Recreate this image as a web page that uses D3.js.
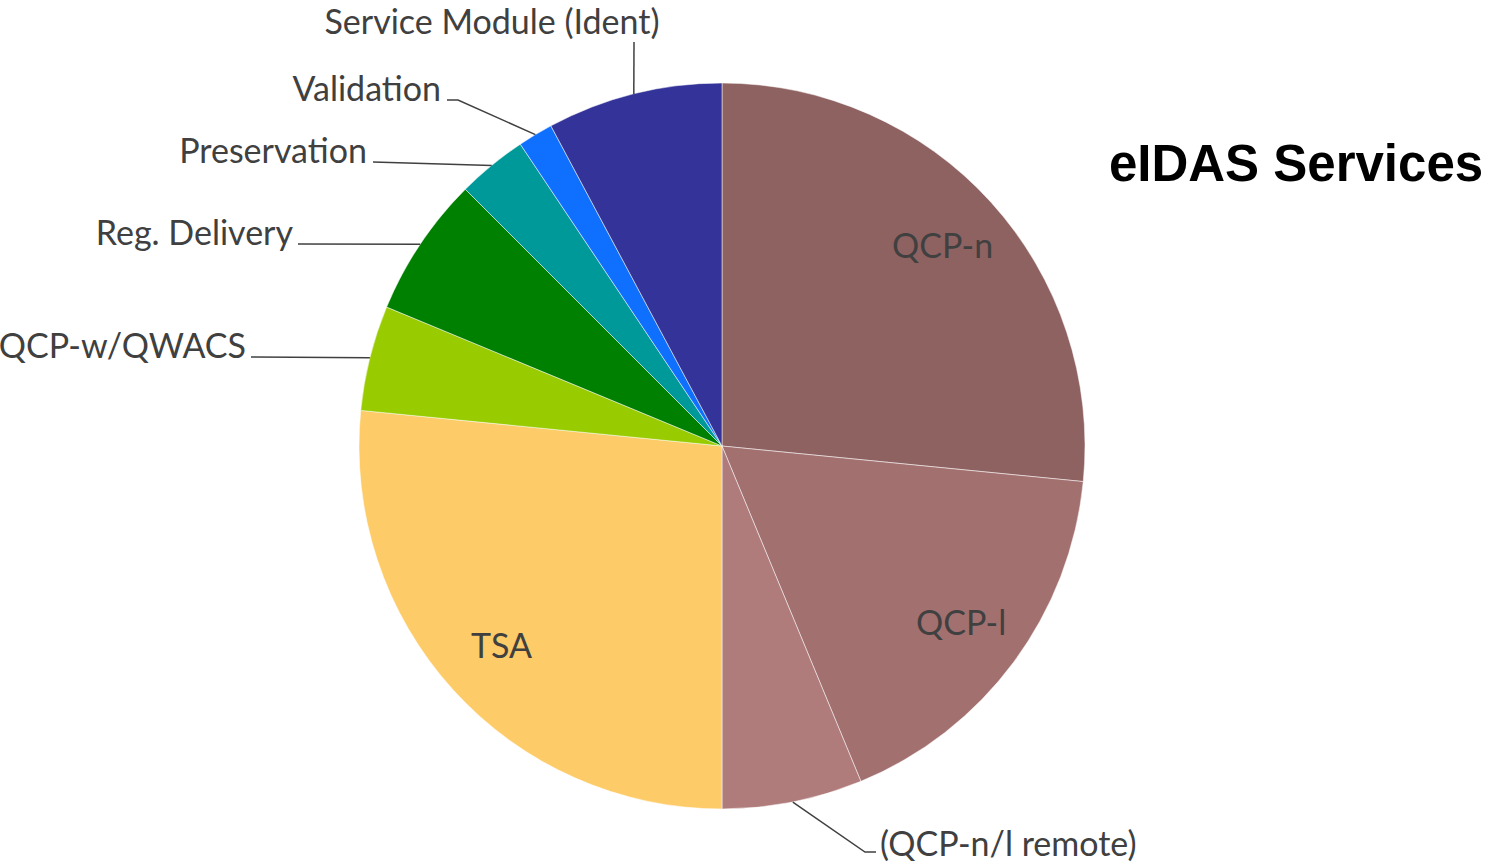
<!DOCTYPE html>
<html>
<head>
<meta charset="utf-8">
<script src="https://cdn.jsdelivr.net/npm/d3@7"></script>
<style>
    body { margin: 0; background: #fff; }
    svg { display: block; }
</style>
</head>
<body>
<div class="chart"></div>
<script>
// data
var services = ["QCP-n", "QCP-l", "(QCP-n/l remote)", "TSA", "QCP-w/QWACS", "Reg. Delivery", "Preservation", "Validation", "Service Module (Ident)"];
var counts = [17, 11, 4, 17, 3, 4, 2, 1, 5];
var colors = ["#8f6262", "#a37070", "#b07b7b", "#fdcb67", "#99cc00", "#008000", "#009999", "#0f6fff", "#333399"];

// label placement: inside or outside with leader line end point
var labelPos = [
    {inside: true},
    {inside: true},
    {x: 880, y: 856, anchor: "start", elbow: [865, 852], end: [876, 852]},
    {inside: true},
    {x: 246, y: 358, anchor: "end", end: [251, 357]},
    {x: 293, y: 245, anchor: "end", end: [298, 244]},
    {x: 367, y: 163, anchor: "end", end: [373, 162]},
    {x: 441, y: 101, anchor: "end", elbow: [458, 100], end: [447, 100]},
    {x: 492, y: 34, anchor: "middle", end: [634, 42]}
];

var width = 1494, height = 862;
var cx = 722, cy = 446, radius = 363;
var font = "Lato, 'Open Sans', sans-serif";

var svg = d3.select(".chart").append("svg")
    .attr("width", width)
    .attr("height", height);

var pie = d3.pie().sort(null).value(function(d) { return d; });
var arcs = pie(counts);
var arc = d3.arc().innerRadius(0).outerRadius(radius);
var inner = d3.arc().innerRadius(radius * 0.82).outerRadius(radius * 0.82);
var edge = d3.arc().innerRadius(radius).outerRadius(radius);

var g = svg.append("g").attr("transform", "translate(" + cx + "," + cy + ")");

g.selectAll("path").data(arcs).enter().append("path")
    .attr("d", arc)
    .attr("fill", function(d, i) { return colors[i]; })
    .attr("stroke", "#fff")
    .attr("stroke-width", 0.5);

// inside labels
g.selectAll(".inlabel").data(arcs.filter(function(d, i) { return labelPos[i].inside; }))
    .enter().append("text")
    .attr("class", "inlabel")
    .attr("transform", function(d) { return "translate(" + inner.centroid(d) + ")"; })
    .attr("text-anchor", "middle")
    .attr("dy", "0.35em")
    .style("font-family", font)
    .style("font-size", "34px")
    .style("fill", "#404040")
    .text(function(d) { return services[d.index]; });

// outside labels with leader lines
arcs.forEach(function(d, i) {
    var p = labelPos[i];
    if (p.inside) return;
    var a = edge.centroid(d);
    var pts = [[a[0] + cx, a[1] + cy]];
    if (p.elbow) pts.push(p.elbow);
    pts.push(p.end);
    svg.append("polyline")
        .attr("points", pts.map(function(q) { return q.join(","); }).join(" "))
        .attr("fill", "none")
        .attr("stroke", "#404040")
        .attr("stroke-width", 1.5);
    svg.append("text")
        .attr("x", p.x)
        .attr("y", p.y)
        .attr("text-anchor", p.anchor)
        .style("font-family", font)
        .style("font-size", "34px")
        .style("fill", "#404040")
        .text(services[i]);
});

// title
svg.append("text")
    .attr("x", 1296)
    .attr("y", 181)
    .attr("text-anchor", "middle")
    .style("font-family", "'Liberation Sans', Arial, sans-serif")
    .style("font-weight", "bold")
    .style("font-size", "51px")
    .style("fill", "#000")
    .text("eIDAS Services");
</script>
</body>
</html>
